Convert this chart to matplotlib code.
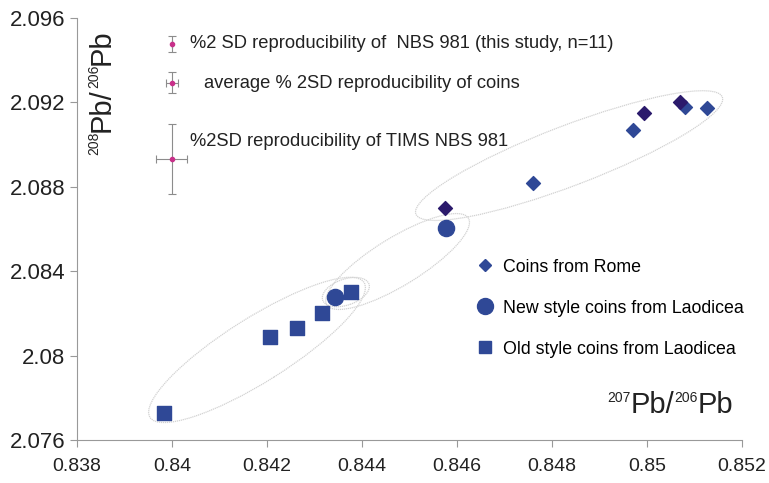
import matplotlib
matplotlib.use('Agg')
import matplotlib.pyplot as plt
import matplotlib.transforms as transforms
from matplotlib.patches import Ellipse
from matplotlib.lines import Line2D

plt.rcParams['font.family'] = ['Liberation Sans', 'DejaVu Sans']

# 207Pb/206Pb (x) and 208Pb/206Pb (y) ratios
rome_x = [0.84761, 0.84970, 0.85081, 0.85126]
rome_y = [2.08819, 2.09069, 2.09180, 2.09172]
rome_dark_x = [0.84575, 0.84994, 0.85070]
rome_dark_y = [2.08698, 2.09148, 2.09202]
new_x = [0.84344, 0.84577]
new_y = [2.08279, 2.08606]
old_x = [0.83984, 0.84207, 0.84263, 0.84315, 0.84377]
old_y = [2.07729, 2.08090, 2.08129, 2.08200, 2.08303]

# reproducibility bars: x, y, xerr, yerr
repro_x = [0.84000, 0.84000, 0.83999]
repro_y = [2.09477, 2.09293, 2.08932]
repro_xerr = [0.00001, 0.000132, 0.000325]
repro_yerr = [0.00037, 0.00049, 0.00166]
repro_text = ['%2 SD reproducibility of  NBS 981 (this study, n=11)',
              'average % 2SD reproducibility of coins',
              '%2SD reproducibility of TIMS NBS 981']
repro_text_x = [0.84037, 0.84068, 0.84037]
repro_text_y = [2.09477, 2.09292, 2.09017]

# group outlines: centre (data), length/width (inches), angle
groups = [((0.84179, 2.08027), 2.53, 0.64, 32.2),
          ((0.84366, 2.08301), 0.49, 0.26, 19.2),
          ((0.84475, 2.08446), 1.66, 0.48, 31.5),
          ((0.84836, 2.08948), 3.28, 0.60, 20.9)]

xticks = [0.838, 0.84, 0.842, 0.844, 0.846, 0.848, 0.85, 0.852]
yticks = [2.076, 2.08, 2.084, 2.088, 2.092, 2.096]

blue = '#2f4896'
navy = '#2b1a6c'
grey = '#999999'
ink = '#222222'

fig = plt.figure(figsize=(7.69, 4.83), dpi=100)
ax = fig.add_axes([0.1001, 0.089, 0.8648, 0.8737])

for (cx, cy), w, h, ang in groups:
    tr = fig.dpi_scale_trans + transforms.ScaledTranslation(cx, cy, ax.transData)
    ax.add_patch(Ellipse((0, 0), w, h, angle=ang, transform=tr, fill=False,
                         edgecolor='#d2d2d2', lw=0.9, linestyle=(0, (1, 0.6))))

ax.scatter(old_x, old_y, marker='s', s=88, color=blue, zorder=3)
ax.scatter(new_x, new_y, marker='o', s=135, color=blue, zorder=3)
ax.scatter(rome_x, rome_y, marker='D', s=50, color=blue, zorder=3)
ax.scatter(rome_dark_x, rome_dark_y, marker='D', s=50, color=navy, zorder=3)

for i in range(3):
    ax.errorbar(repro_x[i], repro_y[i], xerr=repro_xerr[i], yerr=repro_yerr[i],
                fmt='o', ms=3, mfc='#c8308a', mec='#c8308a', ecolor='#8c8c8c',
                elinewidth=0.8, capsize=3, capthick=0.8, zorder=3)
    ax.text(repro_text_x[i], repro_text_y[i], repro_text[i], fontsize=13.2,
            va='center', ha='left', color=ink)

handles = [Line2D([], [], ls='', marker='D', ms=6, color=blue),
           Line2D([], [], ls='', marker='o', ms=11.5, color=blue),
           Line2D([], [], ls='', marker='s', ms=8.5, color=blue)]
labels = ['Coins from Rome', 'New style coins from Laodicea',
          'Old style coins from Laodicea']
ax.legend(handles, labels, loc='upper left', bbox_to_anchor=(0.6, 0.43),
          frameon=False, fontsize=12.8, labelspacing=1.35, handlelength=1.0,
          handletextpad=0.5, borderpad=0, borderaxespad=0)


def isotope_label(x, y, parts, vertical=False):
    # parts: (text, size) pieces, chained one after another
    rot = 90 if vertical else 0
    prev = None
    for txt, size in parts:
        if prev is None:
            if vertical:
                prev = ax.text(x, y, txt, transform=ax.transAxes, rotation=rot,
                               ha='left', va='bottom', fontsize=size, color=ink)
            else:
                prev = ax.text(x, y, txt, transform=ax.transAxes,
                               ha='left', va='top', fontsize=size, color=ink)
        else:
            if vertical:
                prev = ax.annotate(txt, xy=(0, 1), xycoords=prev, rotation=rot,
                                   ha='left', va='bottom', fontsize=size, color=ink)
            else:
                prev = ax.annotate(txt, xy=(1, 1), xycoords=prev,
                                   ha='left', va='top', fontsize=size, color=ink)


isotope_label(0.016, 0.675, [('208', 10), ('Pb/', 21), ('206', 10), ('Pb', 21)],
              vertical=True)
isotope_label(0.797, 0.117, [('207', 10), ('Pb/', 21), ('206', 10), ('Pb', 21)])

ax.set_xlim(0.838, 0.852)
ax.set_ylim(2.076, 2.096)
ax.set_xticks(xticks)
ax.set_xticklabels([str(t) for t in xticks])
ax.set_yticks(yticks)
ax.set_yticklabels([str(t) for t in yticks])
ax.tick_params(colors=grey, labelcolor=ink, length=5, width=0.8)
ax.tick_params(axis='y', labelsize=16)
ax.tick_params(axis='x', labelsize=14, pad=8)
for s in ['top', 'right']:
    ax.spines[s].set_visible(False)
for s in ['left', 'bottom']:
    ax.spines[s].set_color(grey)
    ax.spines[s].set_linewidth(0.8)

fig.savefig('out.png', dpi=100)
